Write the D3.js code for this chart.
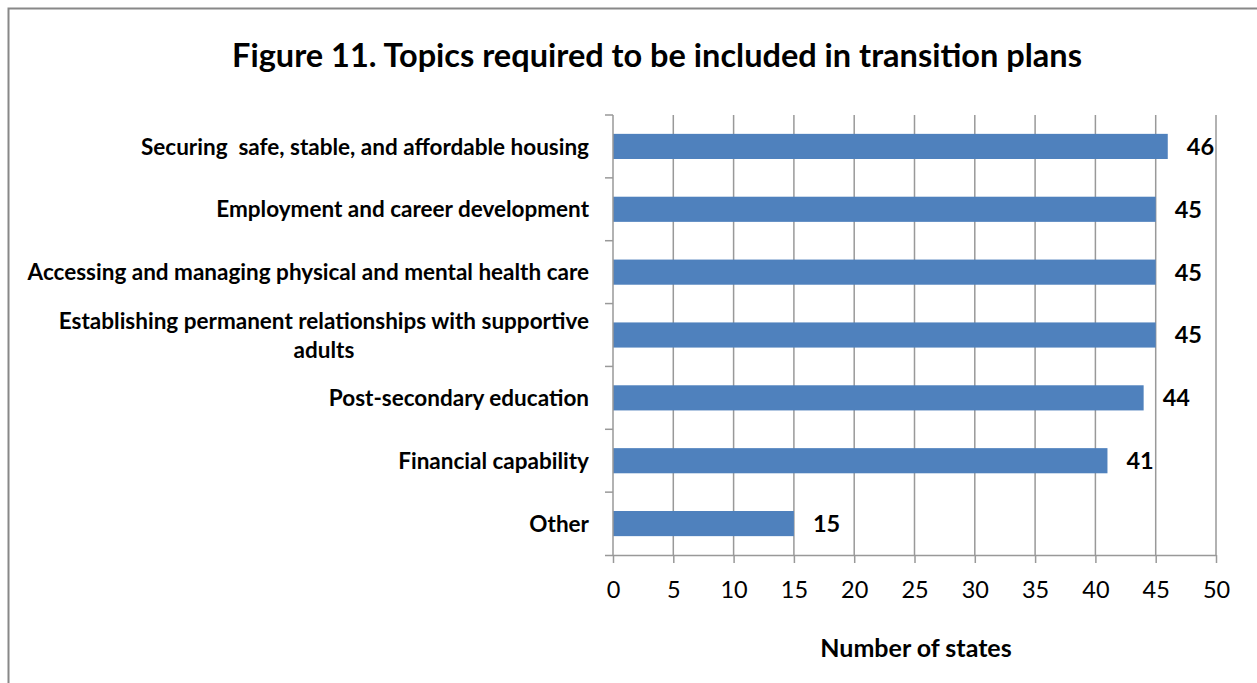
<!DOCTYPE html>
<html>
<head>
<meta charset="utf-8">
<script src="https://cdn.jsdelivr.net/npm/d3@7"></script>
<style>
  html, body { margin: 0; padding: 0; background: #fff; }
  svg { display: block; font-family: Lato, "Open Sans", sans-serif; }
  text { white-space: pre; }
</style>
</head>
<body>
<svg id="chart" width="1257" height="683"></svg>
<script>
// Topics and the number of states requiring each one
const categories = [
  "Securing  safe, stable, and affordable housing",
  "Employment and career development",
  "Accessing and managing physical and mental health care",
  "Establishing permanent relationships with supportive|adults",
  "Post-secondary education",
  "Financial capability",
  "Other"
];
const values = [46, 45, 45, 45, 44, 41, 15];
const xTicks = [0, 5, 10, 15, 20, 25, 30, 35, 40, 45, 50];

const titleText = "Figure 11. Topics required to be included in transition plans";
const xTitle = "Number of states";

const svg = d3.select("#chart");
const margin = { left: 613, right: 41, top: 115, bottom: 128 };
const W = 1257, H = 683;
const plotW = W - margin.left - margin.right;
const plotH = H - margin.top - margin.bottom;

// Outer frame
svg.append("rect")
  .attr("x", 8.5).attr("y", 8.5)
  .attr("width", 1300).attr("height", 800)
  .attr("fill", "none").attr("stroke", "#888").attr("stroke-width", 2);

svg.append("text")
  .attr("x", 657).attr("y", 67)
  .attr("text-anchor", "middle")
  .attr("font-weight", "bold").attr("font-size", 32.5)
  .attr("fill", "#000")
  .text(titleText);

const x = d3.scaleLinear().domain([0, 50]).range([0, plotW]);
const y = d3.scaleBand().domain(categories).range([0, plotH]).paddingInner(0.6).paddingOuter(0.3);

const g = svg.append("g").attr("transform", `translate(${margin.left},${margin.top})`);

// Vertical gridlines
g.append("g").selectAll("line")
  .data(xTicks.slice(1))
  .join("line")
  .attr("x1", d => x(d)).attr("x2", d => x(d))
  .attr("y1", 0).attr("y2", plotH)
  .attr("stroke", "#999").attr("stroke-width", 1.5);

// Bars
g.append("g").selectAll("rect")
  .data(values)
  .join("rect")
  .attr("x", 0)
  .attr("y", (d, i) => y(categories[i]))
  .attr("width", d => x(d))
  .attr("height", y.bandwidth())
  .attr("fill", "#4F81BD");

// Value labels
g.append("g").selectAll("text")
  .data(values)
  .join("text")
  .attr("x", d => x(d) + 19)
  .attr("y", (d, i) => y(categories[i]) + y.bandwidth() / 2)
  .attr("dy", "0.36em")
  .attr("font-weight", "bold").attr("font-size", 23.5)
  .text(d => d);

// X axis
const xAxis = g.append("g")
  .attr("transform", `translate(0,${plotH})`)
  .call(d3.axisBottom(x).tickValues(xTicks).tickSize(8).tickPadding(18).tickSizeOuter(0));
xAxis.select(".domain").attr("stroke", "#999").attr("stroke-width", 1.5)
  .attr("d", `M-8,0.5H${plotW}`);
xAxis.selectAll(".tick line").attr("stroke", "#999").attr("stroke-width", 1.5);
xAxis.selectAll(".tick text")
  .attr("font-family", "Lato, sans-serif")
  .attr("font-size", 23.5).attr("fill", "#000");

// Y axis line and boundary ticks
g.append("line")
  .attr("x1", 0).attr("x2", 0).attr("y1", 0).attr("y2", plotH)
  .attr("stroke", "#999").attr("stroke-width", 1.5);
g.append("g").selectAll("line")
  .data(d3.range(categories.length))
  .join("line")
  .attr("x1", -8).attr("x2", 0)
  .attr("y1", i => i * plotH / categories.length)
  .attr("y2", i => i * plotH / categories.length)
  .attr("stroke", "#999").attr("stroke-width", 1.5);

// Category labels (right-aligned, wrapped lines centred under the first)
const labels = g.append("g");
categories.forEach((c, i) => {
  const lines = c.split("|");
  const cy = y(c) + y.bandwidth() / 2;
  const lh = 29;
  const t = labels.append("text")
    .attr("font-weight", "bold").attr("font-size", 22.5)
    .attr("fill", "#000");
  if (lines.length === 1) {
    t.attr("x", -24).attr("y", cy).attr("dy", "0.36em")
      .attr("text-anchor", "end").text(lines[0]);
  } else {
    const first = t.append("tspan").attr("x", -24).attr("y", cy - lh / 2)
      .attr("dy", "0.36em").attr("text-anchor", "end").text(lines[0]);
    const w = first.node().getComputedTextLength();
    t.append("tspan").attr("x", -24 - w / 2).attr("y", cy + lh / 2)
      .attr("dy", "0.36em").attr("text-anchor", "middle").text(lines[1]);
  }
});

// X axis title
svg.append("text")
  .attr("x", 916).attr("y", 657)
  .attr("text-anchor", "middle")
  .attr("font-weight", "bold").attr("font-size", 25)
  .text(xTitle);
</script>
</body>
</html>
